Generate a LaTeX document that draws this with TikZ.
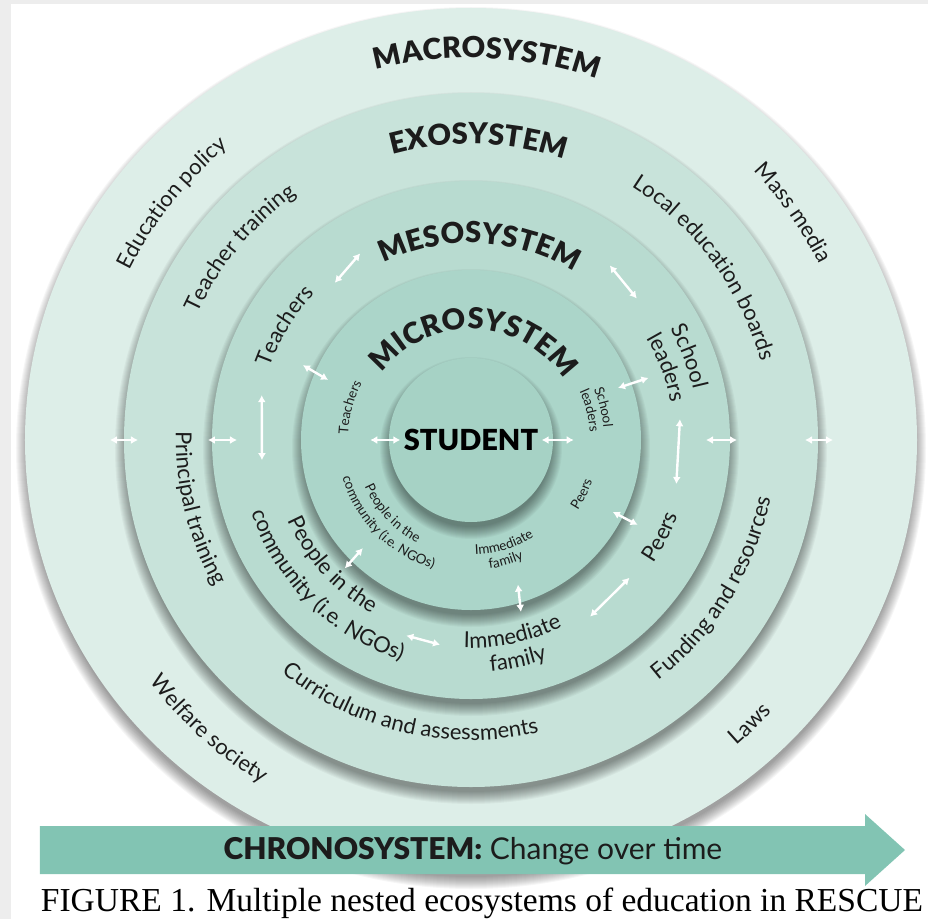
\documentclass[tikz,border=0pt]{standalone}
\usepackage{fontspec}
\setmainfont{Lato}
\newfontfamily\capfont{Liberation Serif}
\IfFontExistsTF{Lato Black}{\newfontfamily\heavy{Lato Black}}{\newcommand\heavy{\bfseries}}
\usetikzlibrary{arrows.meta,%   Latex tips for the white double arrows
decorations.text}%             text bent along the rings
\definecolor{framegray}{HTML}{EDEDED}
\definecolor{macrocol}{HTML}{DDEEE8}
\definecolor{exocol}{HTML}{C8E3DA}
\definecolor{mesocol}{HTML}{B8DBD0}
\definecolor{microcol}{HTML}{ABD5C9}
\definecolor{studcol}{HTML}{A6D2C5}
\definecolor{chronocol}{HTML}{82C4B3}
\definecolor{ink}{HTML}{1C1C1C}
\tikzset{every node/.style={text=ink},
  duo/.style={<->, >={Latex[length=7pt,width=8pt]}, white, line width=2.4pt}}
\newcommand\labfont{\fontsize{22}{25}\selectfont}
\newcommand\microfont{\fontsize{13.5}{15}\selectfont}
\newcommand\titlefont{\fontsize{29}{32}\selectfont\heavy}
% soft shadow under a disc: x radius, y radius
\newcommand\ringshadow[2]{\foreach \k in {0,...,12}
  \fill[black,opacity=.034] (0,-8) ellipse[x radius={#1-3+\k}, y radius={#2-3+\k}];}
% text on a ring: font, radius, middle angle, +1 ccw / -1 cw, text
\newcommand\arclabel[5]{\path[decorate, decoration={text along path, text align=center,
  text color=ink, text={|#1|#5}}]
  ({#3-(#4)*85}:#2) arc[start angle={#3-(#4)*85}, end angle={#3+(#4)*85}, radius=#2];}

\begin{document}
\begin{tikzpicture}[x=1pt,y=1pt]
  \useasboundingbox (-471,-479) rectangle (457,440);
  \fill[framegray] (-471,436) rectangle (457,440);
  \fill[framegray] (-471,-479) rectangle (-460,440);
  \coordinate (c) at (0,0);
  % the nested systems
  \ringshadow{446}{432} \fill[macrocol] (c) ellipse[x radius=446, y radius=432];
  \ringshadow{347}{347} \fill[exocol] (c) circle[radius=347];
  \ringshadow{259}{259} \fill[mesocol] (c) circle[radius=259];
  \ringshadow{170}{170} \fill[microcol] (c) circle[radius=170];
  \ringshadow{82}{82} \fill[studcol] (c) circle[radius=82];
  % chronosystem arrow
  \fill[chronocol] (-431,-386) -- (394,-386) -- (394,-374) -- (434,-410)
    -- (394,-446) -- (394,-434) -- (-431,-434) -- cycle;
  \node (chrono) at (2,-411) {\fontsize{30}{32}\selectfont{\heavy CHRONOSYSTEM:} Change over time};
  \node[font=\capfont\fontsize{33.5}{35}\selectfont, anchor=base, text=black] (caption) at (11,-471)
    {FIGURE 1. Multiple nested ecosystems of education in RESCUE};
  % titles
  \arclabel{\titlefont}{382}{87.6}{-1}{MACROSYSTEM}
  \arclabel{\titlefont}{296}{88.5}{-1}{EXOSYSTEM}
  \arclabel{\titlefont}{197}{87.4}{-1}{MESOSYSTEM}
  \arclabel{\fontsize{29}{31}\selectfont\heavy}{111}{88}{-1}{MICROSYSTEM}
  \node[font=\fontsize{29}{32}\selectfont\heavy, text=black] (student) at (c) {STUDENT};
  % macrosystem
  \arclabel{\labfont}{381}{141.6}{-1}{Education policy}
  \arclabel{\labfont}{390}{35.2}{-1}{Mass media}
  \arclabel{\labfont}{402}{227.8}{1}{Welfare society}
  \arclabel{\labfont}{405}{314.5}{1}{Laws}
  % exosystem
  \arclabel{\labfont}{301}{140.3}{-1}{Teacher training}
  \arclabel{\labfont}{300}{36.4}{-1}{Local education boards}
  \arclabel{\labfont}{295}{194}{1}{Principal training}
  \arclabel{\labfont}{305}{328.5}{1}{Funding and resources}
  \arclabel{\labfont}{300}{257}{1}{Curriculum and assessments}
  % mesosystem
  \arclabel{\labfont}{214}{148.5}{-1}{Teachers}
  \arclabel{\labfont}{228}{21}{-1}{School}
  \arclabel{\labfont}{203}{20.3}{-1}{leaders}
  \arclabel{\labfont}{220}{-27}{1}{Peers}
  \arclabel{\labfont}{208}{282}{1}{Immediate}
  \arclabel{\labfont}{232}{282}{1}{family}
  \arclabel{\labfont}{200}{222}{1}{People in the}
  \arclabel{\labfont}{231}{225.4}{1}{community (i.e. NGOs)}
  % microsystem
  \arclabel{\microfont}{123}{165}{-1}{Teachers}
  \arclabel{\microfont}{133}{13.9}{-1}{School}
  \arclabel{\microfont}{119}{14}{-1}{leaders}
  \arclabel{\microfont}{128}{-26}{1}{Peers}
  \arclabel{\microfont}{115}{-72.4}{1}{Immediate}
  \arclabel{\microfont}{130}{-74}{1}{family}
  \arclabel{\microfont}{116}{223}{1}{People in the}
  \arclabel{\microfont}{134}{225}{1}{community (i.e. NGOs)}
  % links between the systems
  \draw[duo] (-361,0) -- (-333,0);
  \draw[duo] (-263,0) -- (-234,0);
  \draw[duo] ([xshift=-30pt]student.west) -- (student.west);
  \draw[duo] (student.east) -- ([xshift=32pt]student.east);
  \draw[duo] (235,0) -- (266,0);
  \draw[duo] (334,0) -- (362,0);
  \draw[duo] (130.9:208) -- (120.7:217);
  \draw[duo] (51.5:223) -- (40.5:218);
  \draw[duo] (156:184) -- (157.2:155);
  \draw[duo] (19.5:156) -- (19.3:188);
  \draw[duo] (-26.9:159) -- (-27:187);
  \draw[duo] (225.5:180) -- (225:153);
  \draw[duo] (-72:152) -- (-73.8:179);
  \draw[duo] (167.9:214) -- (185.5:210);
  \draw[duo] (5.7:210) -- (-12.1:210);
  \draw[duo] (251.7:206) -- (261.4:207);
  \draw[duo] (-56:213) -- (-41:210);
\end{tikzpicture}
\end{document}
